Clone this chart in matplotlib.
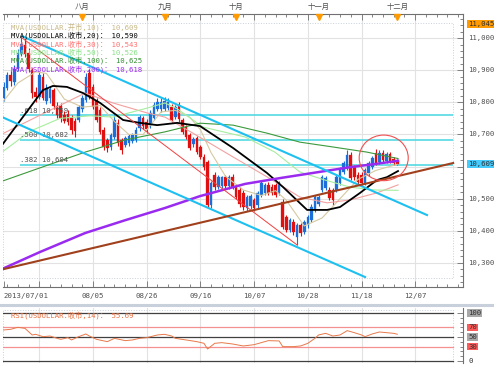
import numpy as np
import matplotlib
matplotlib.use('Agg')
import matplotlib.pyplot as plt
import matplotlib.transforms as mtransforms
from matplotlib.patches import Ellipse, Rectangle
from matplotlib.lines import Line2D

plt.rcParams['font.family'] = ['DejaVu Sans Mono', 'Noto Sans CJK SC']

# ---- daily candles (trading-day index 0 = 2013/07/01) ----
opens = [10815, 10845, 10885, 10862, 10905, 10952, 10980, 10955, 10900, 10832,
         10818, 10880, 10805, 10815, 10838, 10790, 10788, 10760, 10765, 10752,
         10742, 10745, 10778, 10808, 10890, 10848, 10805, 10776, 10714, 10683,
         10662, 10692, 10736, 10683, 10668, 10672, 10680, 10683, 10720, 10750,
         10740, 10729, 10751, 10780, 10778, 10780, 10782, 10785, 10755, 10792,
         10745, 10723, 10698, 10670, 10689, 10661, 10630, 10614, 10480, 10574,
         10537, 10540, 10566, 10538, 10568, 10536, 10527, 10518, 10471, 10476,
         10495, 10480, 10512, 10518, 10543, 10537, 10543, 10518, 10490, 10443,
         10403, 10428, 10381, 10418, 10397, 10418, 10434, 10465, 10484, 10527,
         10534, 10527, 10527, 10527, 10549, 10583, 10596, 10636, 10599, 10574,
         10574, 10549, 10580, 10599, 10642, 10615, 10642, 10618, 10638, 10622,
         10616]
highs = [10862, 10895, 10896, 10915, 10965, 11008, 11000, 10968, 10908, 10848,
         10895, 10892, 10858, 10852, 10846, 10800, 10798, 10772, 10775, 10762,
         10750, 10792, 10822, 10890, 10905, 10858, 10815, 10785, 10722, 10690,
         10705, 10760, 10748, 10690, 10695, 10702, 10705, 10722, 10762, 10758,
         10748, 10775, 10800, 10812, 10815, 10818, 10812, 10795, 10792, 10800,
         10752, 10730, 10706, 10692, 10696, 10668, 10638, 10620, 10556, 10582,
         10575, 10572, 10574, 10575, 10576, 10545, 10535, 10526, 10512, 10514,
         10502, 10524, 10556, 10550, 10552, 10545, 10550, 10556, 10498, 10450,
         10440, 10436, 10425, 10425, 10435, 10450, 10482, 10512, 10512, 10575,
         10572, 10535, 10534, 10575, 10598, 10618, 10650, 10645, 10606, 10582,
         10582, 10596, 10618, 10634, 10655, 10650, 10652, 10645, 10646, 10630,
         10622]
lows = [10805, 10838, 10852, 10855, 10898, 10945, 10940, 10895, 10812, 10800,
        10810, 10808, 10795, 10798, 10780, 10752, 10740, 10735, 10730, 10700,
        10692, 10738, 10770, 10800, 10810, 10778, 10738, 10700, 10652, 10645,
        10652, 10685, 10665, 10640, 10660, 10665, 10672, 10676, 10712, 10716,
        10706, 10720, 10745, 10772, 10770, 10772, 10775, 10738, 10748, 10740,
        10700, 10685, 10650, 10662, 10638, 10622, 10590, 10470, 10472, 10528,
        10530, 10532, 10532, 10530, 10530, 10498, 10475, 10465, 10462, 10468,
        10462, 10472, 10505, 10510, 10510, 10510, 10505, 10510, 10405, 10396,
        10395, 10388, 10356, 10385, 10390, 10410, 10426, 10458, 10476, 10520,
        10526, 10495, 10480, 10520, 10542, 10576, 10590, 10558, 10558, 10545,
        10542, 10542, 10572, 10592, 10604, 10608, 10614, 10612, 10612, 10606,
        10604]
closes = [10848, 10885, 10865, 10905, 10955, 10982, 10952, 10905, 10830, 10818,
          10885, 10815, 10845, 10840, 10790, 10762, 10750, 10742, 10738, 10715,
          10710, 10785, 10815, 10878, 10818, 10786, 10746, 10708, 10662, 10658,
          10698, 10745, 10673, 10652, 10689, 10695, 10698, 10714, 10754, 10725,
          10716, 10767, 10792, 10800, 10800, 10805, 10802, 10745, 10785, 10748,
          10708, 10692, 10658, 10685, 10645, 10630, 10599, 10480, 10549, 10536,
          10568, 10566, 10540, 10568, 10537, 10505, 10482, 10474, 10505, 10508,
          10471, 10518, 10549, 10543, 10518, 10518, 10512, 10549, 10412, 10403,
          10434, 10397, 10418, 10393, 10428, 10443, 10474, 10505, 10505, 10568,
          10565, 10502, 10496, 10568, 10590, 10611, 10636, 10565, 10568, 10552,
          10549, 10590, 10611, 10627, 10611, 10642, 10620, 10638, 10618, 10612,
          10609]

# ---- moving averages (day index, value) ----
ma10_x = [-1, 4, 9, 12, 17, 22, 27, 31, 35, 39, 44, 48, 52, 55, 58, 62, 67, 72,
          76, 79, 84, 89, 94, 99, 104, 110]
ma10_y = [10790, 10860, 10895, 10890, 10810, 10785, 10790, 10740, 10700, 10700,
          10770, 10775, 10754, 10715, 10643, 10570, 10527, 10510, 10525, 10495,
          10415, 10440, 10500, 10560, 10588, 10607]
ma20_x = [-1, 11, 13.8, 17.7, 22.2, 27, 33.4, 38.1, 42.9, 48.5, 54.9, 64.1,
          73.6, 78.1, 84.8, 90.4, 94, 99.6, 104.3, 107.1, 110.2]
ma20_y = [10658, 10838, 10851, 10848, 10829, 10798, 10745, 10736, 10729, 10736,
          10726, 10658, 10580, 10536, 10465, 10465, 10474, 10518, 10558, 10567,
          10586]
ma30_x = [-1, 10.2, 22.8, 30.6, 40.1, 45.1, 52.9, 64.1, 73.6, 82.8, 90.4, 96.8,
          104.3, 110.2]
ma30_y = [10698, 10760, 10829, 10798, 10767, 10754, 10704, 10630, 10568, 10505,
          10487, 10496, 10518, 10543]
ma50_x = [-1, 7.4, 15.8, 24.2, 30.6, 40.1, 45.1, 48.5, 55.7, 67.5, 75.8, 82.8,
          89.8, 96.8, 103.8, 110.2]
ma50_y = [10640, 10710, 10750, 10758, 10754, 10782, 10798, 10780, 10723, 10692,
          10645, 10583, 10558, 10536, 10527, 10526]
ma100_x = [-1, 10.2, 22.8, 34, 45.1, 54.9, 64.1, 73.6, 82.8, 92, 101.5, 110.2]
ma100_y = [10552, 10596, 10645, 10683, 10708, 10735, 10729, 10704, 10676, 10661,
           10645, 10625]
ma200_x = [-1, 10.2, 22.8, 34, 45.1, 54.9, 67.5, 77.2, 89.8, 96.8, 103.8, 110.2]
ma200_y = [10278, 10334, 10393, 10433, 10471, 10508, 10546, 10564, 10586, 10598,
           10608, 10618]

ma_labels = ['MVA(USDOLLAR.开市,10)： 10,609', 'MVA(USDOLLAR.收市,20)： 10,590',
             'MVA(USDOLLAR.收市,30)： 10,543', 'MVA(USDOLLAR.收市,50)： 10,526',
             'MVA(USDOLLAR.收市,100)： 10,625', 'MVA(USDOLLAR.收市,200)： 10,618']

# ---- drawn trend lines (day index, price) ----
chan_up_x, chan_up_y = [5.2, 118.3], [11006, 10449]
chan_lo_x, chan_lo_y = [-1, 101], [10757, 10256]
red_trend_x, red_trend_y = [4.9, 82], [11003, 10356]
brown_x, brown_y = [-1, 125.6], [10278, 10611]

fib_ratios = ['.618', '.500', '.382']
fib_values = [10759, 10682, 10604]

# ---- RSI(14) ----
rsi_x = [0, 2, 4, 6, 8, 9, 11, 13, 15, 16, 18, 19, 21, 23, 24, 26, 29, 31, 34,
         36, 38, 40, 43, 45, 47, 48, 51, 54, 56, 57, 59, 61, 64, 67, 70, 73, 74,
         77, 78, 81, 83, 85, 87, 88, 90, 92, 94, 96, 98, 100, 101, 103, 105, 107,
         109, 110]
rsi_y = [64.6, 66, 70.2, 68, 54.2, 55.6, 50.7, 52, 47.2, 45.1, 48.6, 43.8, 50.7,
         56.3, 52, 45.1, 40.3, 47.2, 42.4, 43.8, 47.2, 48.6, 54.2, 55.6, 52, 47.2,
         43.8, 40.3, 36.8, 25, 36.8, 38.2, 35.4, 31.3, 34, 40.3, 42.4, 41.7, 29.9,
         29.9, 31.3, 36.8, 47.2, 54.2, 57.6, 52, 54.2, 63.2, 59, 54.2, 50.7, 56.3,
         60.4, 59, 57.6, 55.69]

# ---- axis labels ----
date_idx = [0, 25, 40, 55, 70, 85, 100, 115]
date_labels = ['2013/07/01', '08/05', '08/26', '09/16', '10/07', '10/28', '11/18', '12/07']
grid_idx = [10, 25, 40, 55, 70, 85, 100, 115]
month_idx = [22, 45, 65, 88, 110]
month_names = ['八月', '九月', '十月', '十一月', '十二月']
price_ticks = [11000, 10900, 10800, 10700, 10500, 10400, 10300]
price_grid = [10300, 10400, 10500, 10600, 10700, 10800, 10900, 11000]
top_value = 11045
last_value = 10609

W, H = 494, 365
fig = plt.figure(figsize=(W / 100, H / 100), dpi=100)
fig.patch.set_facecolor('white')


def fx(px):
    return px / W


def fy(py):
    return 1 - py / H


ax = fig.add_axes([fx(3), fy(287), fx(460), 273 / H])
rax = fig.add_axes([fx(3), fy(363), fx(460), 55 / H])

XMIN, XMAX = -0.14, 128.35
ax.set_xlim(XMIN, XMAX)
ax.set_ylim(10225, 11075)

for v in price_grid:
    ax.axhline(v, color='#e2e2e2', lw=0.8, zorder=0)
for i in grid_idx:
    ax.axvline(i, color='#e2e2e2', lw=0.8, zorder=0)
ax.add_patch(Rectangle((0, 0.033), 0.978, 0.934, transform=ax.transAxes, fill=False,
                       ec='#c8d0dc', lw=0.7, ls=':', zorder=0))

# fibonacci levels
for r, v in zip(fib_ratios, fib_values):
    ax.hlines(v, 4.6, 125.6, color='#46d6e0', lw=1.1, zorder=2)
    ax.text(4.6, v + 6, f'{r} {v:,}', fontsize=5.2, color='#505050', va='bottom', ha='left', zorder=6)

# candles
o = np.array(opens, float)
c = np.array(closes, float)
idx = np.arange(len(o))
cols = np.where(c >= o, '#1c6fd8', '#e01010')
ax.vlines(idx, lows, highs, colors=cols, lw=0.8, zorder=3)
ax.bar(idx, np.maximum(np.abs(c - o), 2), bottom=np.minimum(o, c), width=0.72,
       color=cols, edgecolor=cols, lw=0.2, zorder=4)

# moving averages
ax.plot(ma10_x, ma10_y, color='#d6c8a0', lw=0.8, zorder=5)
ax.plot(ma30_x, ma30_y, color='#f4a0a0', lw=0.8, zorder=5)
ax.plot(ma50_x, ma50_y, color='#a6ee9e', lw=0.8, zorder=5)
ax.plot(ma100_x, ma100_y, color='#3c9a3c', lw=0.8, zorder=5)
ax.plot(ma20_x, ma20_y, color='black', lw=1.3, zorder=6)
ax.plot(ma200_x, ma200_y, color='#9a2af0', lw=1.8, zorder=6)

# trend lines
ax.plot(chan_up_x, chan_up_y, color='#1ec0f0', lw=1.5, zorder=7)
ax.plot(chan_lo_x, chan_lo_y, color='#1ec0f0', lw=1.5, zorder=7)
ax.plot(red_trend_x, red_trend_y, color='#f04040', lw=0.7, zorder=7)
ax.plot(brown_x, brown_y, color='#a0401c', lw=1.5, zorder=7)
ax.add_patch(Ellipse((106.2, 10627), 13.7, 142, fill=False, ec='#f05050', lw=0.8, zorder=8))

# legend text
for k, (lab, col) in enumerate(zip(ma_labels, ['#c8b888', 'black', '#ff7070', '#88e088',
                                               '#2f8f2f', '#9a2af0'])):
    ax.text(0.0174, 0.952 - k * 0.0305, lab, transform=ax.transAxes, fontsize=5.2,
            color=col, va='center', ha='left', zorder=9)

# rulers
for a in (ax, rax):
    a.spines['left'].set_visible(False)
    for s in ('top', 'bottom', 'right'):
        a.spines[s].set_color('#707070')
        a.spines[s].set_linewidth(0.8)
ax.set_xticks([0] + grid_idx)
ax.set_xticks(np.arange(1, 128, 3), minor=True)
ax.tick_params(axis='x', which='both', direction='in', top=True, bottom=True,
               labelbottom=False, colors='#707070', width=0.6)
ax.tick_params(axis='x', which='major', length=4)
ax.tick_params(axis='x', which='minor', length=2.2)
ax.yaxis.tick_right()
ax.set_yticks(price_grid)
ax.set_yticks(np.arange(10240, 11080, 20), minor=True)
ax.tick_params(axis='y', which='both', direction='in', labelright=False, colors='#707070',
               width=0.6, left=False, right=True)
ax.tick_params(axis='y', which='major', length=4)
ax.tick_params(axis='y', which='minor', length=2)

tb = mtransforms.blended_transform_factory(ax.transData, ax.transAxes)
for i, lab in zip(date_idx, date_labels):
    ax.text(i, -0.033, lab, transform=tb, fontsize=5.3, color='#505050', va='center',
            ha='left' if i == 0 else 'center')
ax.plot(month_idx, [0.989] * len(month_idx), 'v', color='#ff9a00', ms=4.5,
        transform=tb, clip_on=False, zorder=10)
for i, lab in zip(month_idx, month_names):
    ax.text(i, 1.029, lab, transform=tb, fontsize=5.3, color='#505050', va='center', ha='center')

ty = mtransforms.blended_transform_factory(ax.transAxes, ax.transData)
for v in price_ticks:
    ax.text(1.011, v, f'{v:,}', transform=ty, fontsize=5.2, color='#505050', va='center')
ax.text(1.011, top_value, f'{top_value:,}', transform=ty, fontsize=5.2, color='#303030',
        va='center', bbox=dict(boxstyle='square,pad=0.15', fc='#ff9a00', ec='none'))
ax.text(1.011, last_value, f'{last_value:,}', transform=ty, fontsize=5.2, color='#303030',
        va='center', bbox=dict(boxstyle='square,pad=0.15', fc='#44ccff', ec='none'))

# ---- RSI panel ----
rax.set_xlim(XMIN, XMAX)
rax.set_ylim(-4.2, 110.4)
for i in grid_idx:
    rax.axvline(i, color='#e2e2e2', lw=0.8, zorder=0)
rax.add_patch(Rectangle((0, 0.0), 0.978, 0.955, transform=rax.transAxes, fill=False,
                        ec='#c8d0dc', lw=0.7, ls=':', zorder=0))
for lvl, col in [(100, '#404040'), (70, '#f49090'), (50, '#404040'), (30, '#f49090'),
                 (0, '#404040')]:
    rax.axhline(lvl, xmax=0.978, color=col, lw=0.9, zorder=1)
rax.plot(rsi_x, rsi_y, color='#e8784a', lw=0.7, zorder=3)
rax.text(0.0174, 0.873, 'RSI(USDOLLAR.收市,14)： 55.69', transform=rax.transAxes,
         fontsize=5.2, color='#e87040', va='center')
rax.spines['bottom'].set_visible(False)
rax.spines['top'].set_visible(False)
rax.set_xticks([])
rax.yaxis.tick_right()
rax.set_yticks([0, 50, 100])
rax.set_yticks(np.arange(0, 101, 10), minor=True)
rax.tick_params(axis='y', which='both', direction='in', labelright=False, colors='#707070',
                width=0.6, left=False, right=True)
rax.tick_params(axis='y', which='major', length=4)
rax.tick_params(axis='y', which='minor', length=2)
rty = mtransforms.blended_transform_factory(rax.transAxes, rax.transData)
for lvl, bg in [(100, '#a8a8a8'), (70, '#ff5a5a'), (50, '#a8a8a8'), (30, '#ff5a5a'), (0, None)]:
    kw = dict(bbox=dict(boxstyle='square,pad=0.1', fc=bg, ec='none')) if bg else {}
    rax.text(1.011, lvl, str(lvl), transform=rty, fontsize=5.2, color='#303030',
             va='center', **kw)

fig.add_artist(Line2D([0, 1], [fy(305), fy(305)], color='#c8d0dc', lw=2.2,
                      transform=fig.transFigure))

fig.savefig('out.png', dpi=100)
